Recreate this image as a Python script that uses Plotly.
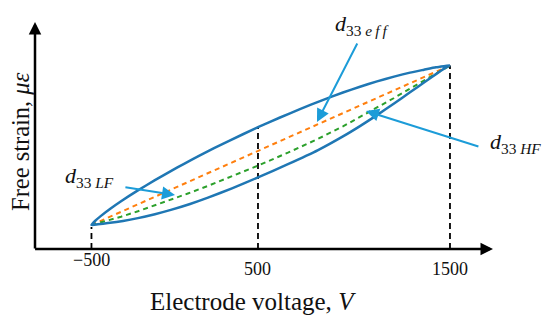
import plotly.graph_objects as go

# ---- data read from the schematic (x: electrode voltage in V, y: free strain, arbitrary units) ----
loop_upper_v = [-500, -480, -447, -391, -335, -241, -146, -23, 105, 262, 429, 552, 663, 786,
                903, 998, 1093, 1188, 1277, 1355, 1422, 1466, 1500]
loop_upper_s = [24, 28, 33.1, 40.7, 47.7, 58.6, 68.8, 81.3, 93.7, 107.7, 121.8, 131.5, 139.9,
                148.7, 156.5, 162.3, 167.6, 172.4, 176.4, 179.3, 181.7, 182.8, 183.5]

loop_lower_v = [-500, -464, -408, -324, -241, -146, -57, 50, 150, 284, 429, 596, 764, 903,
                998, 1093, 1188, 1277, 1355, 1428, 1472, 1500]
loop_lower_s = [24, 24.7, 25.9, 28.1, 30.9, 34.8, 39.1, 45, 51.3, 60.7, 71.6, 84.8, 98.9,
                112.6, 122.9, 133.9, 145.5, 156.7, 166.5, 175.6, 180.8, 183.5]

green_v = [-500, -425, -335, -241, -146, -51, 38, 150, 289, 429, 596, 758, 903, 998,
           1093, 1188, 1277, 1372, 1461, 1500]
green_s = [24, 27.6, 32.3, 37.7, 43.5, 49.6, 55.5, 63.1, 73.1, 83.4, 96.3, 109.6, 122.6,
           131.8, 141.3, 151.0, 160.3, 170.3, 179.9, 183.5]

orange_v = [-500, 1500]
orange_s = [24, 183.5]

tick_labels = ["\u2212500", "500", "1500"]
tick_pos = [-500, 429, 1500]          # the figure is drawn not to scale
guide_top_s = [22, 121.8, 183.5]

x_range = [-815, 1740]
y_range = [0, 227]

LOOP = "#1f77b4"
ARROW = "#1c9cd8"
FONT = "Liberation Serif"

W, H = 550, 321
L, R, T, B = 35, 57, 22, 72
PW, PH = W - L - R, H - T - B


def px_x(px):
    return (px - L) / PW


def px_y(py):
    return (H - B - py) / PH


fig = go.Figure()

# dashed vertical guides
for v, top in zip(tick_pos, guide_top_s):
    fig.add_trace(go.Scatter(x=[v, v], y=[0, top], mode="lines",
                             line=dict(color="black", width=1.8, dash="6px,4px"),
                             hoverinfo="skip"))

fig.add_trace(go.Scatter(x=orange_v, y=orange_s, mode="lines",
                         line=dict(color="#ff7f0e", width=2, dash="5px,4px"), hoverinfo="skip"))
fig.add_trace(go.Scatter(x=green_v, y=green_s, mode="lines",
                         line=dict(color="#2ca02c", width=2, dash="5px,4px"), hoverinfo="skip"))

loop_v = loop_lower_v + loop_upper_v[::-1]
loop_s = loop_lower_s + loop_upper_s[::-1]
fig.add_trace(go.Scatter(x=loop_v, y=loop_s, mode="lines",
                         line=dict(color=LOOP, width=2.5, shape="spline", smoothing=0.5),
                         hoverinfo="skip"))

ann = []
# axes with arrow heads
ann.append(dict(x=x_range[1], y=0, ax=x_range[0] - 8, ay=0, xref="x", yref="y",
                axref="x", ayref="y", showarrow=True, arrowhead=2, arrowsize=1.0,
                arrowwidth=2.5, arrowcolor="black", text=""))
ann.append(dict(x=x_range[0], y=y_range[1], ax=x_range[0], ay=-1, xref="x", yref="y",
                axref="x", ayref="y", showarrow=True, arrowhead=2, arrowsize=1.0,
                arrowwidth=2.5, arrowcolor="black", text=""))

# tick labels (the -500 label sits a little higher in the original)
tick_label_py = [260, 269, 269]
for lab, v, py in zip(tick_labels, tick_pos, tick_label_py):
    ann.append(dict(x=v, y=px_y(py), xref="x", yref="paper", text=lab, showarrow=False,
                    xanchor="center", yanchor="middle",
                    font=dict(family=FONT, size=18, color="#111")))

# axis titles
ann.append(dict(x=px_x(253), y=px_y(301), xref="paper", yref="paper",
                text="Electrode voltage, <i>V</i>", showarrow=False,
                xanchor="center", yanchor="middle",
                font=dict(family=FONT, size=25, color="#111")))
ann.append(dict(x=px_x(20), y=px_y(142), xref="paper", yref="paper",
                text="Free strain, <i>\u03bc\u03b5</i>", showarrow=False,
                xanchor="center", yanchor="middle", textangle=-90,
                font=dict(family=FONT, size=24.5, color="#111")))

# d33 labels
lab_font = dict(family=FONT, size=22, color="#111")
ann.append(dict(x=px_x(333), y=px_y(25), xref="paper", yref="paper",
                text="<i>d</i><sub>33 <i>e\u2009f\u2009f</i></sub>",
                showarrow=False, xanchor="left", yanchor="middle", font=lab_font))
ann.append(dict(x=px_x(488), y=px_y(143), xref="paper", yref="paper",
                text="<i>d</i><sub>33 <i>HF</i></sub>",
                showarrow=False, xanchor="left", yanchor="middle", font=lab_font))
ann.append(dict(x=px_x(63), y=px_y(177), xref="paper", yref="paper",
                text="<i>d</i><sub>33 <i>LF</i></sub>",
                showarrow=False, xanchor="left", yanchor="middle", font=lab_font))

# pointer arrows (tip, tail) in data units
arrows = [((758, 127), (987, 207)), ((1031, 138), (1667, 102)), ((-34, 54), (-319, 62))]
for (tx, ty), (sx, sy) in arrows:
    ann.append(dict(x=tx, y=ty, ax=sx, ay=sy, xref="x", yref="y", axref="x", ayref="y",
                    showarrow=True, arrowhead=2, arrowsize=1.3, arrowwidth=2,
                    arrowcolor=ARROW, text=""))

fig.update_layout(
    width=W, height=H,
    margin=dict(l=L, r=R, t=T, b=B),
    plot_bgcolor="white", paper_bgcolor="white",
    showlegend=False,
    xaxis=dict(range=x_range, showgrid=False, zeroline=False, showticklabels=False,
               showline=False, ticks="", fixedrange=True),
    yaxis=dict(range=y_range, showgrid=False, zeroline=False, showticklabels=False,
               showline=False, ticks="", fixedrange=True),
    annotations=ann,
)

fig.write_html("out.html",
               config={"displayModeBar": False, "staticPlot": True},
               post_script="document.body.style.margin='0px';document.body.style.overflow='hidden';")
